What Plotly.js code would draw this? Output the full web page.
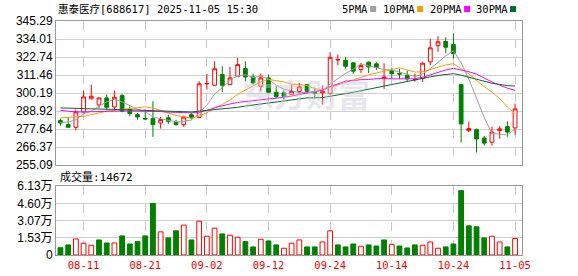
<!DOCTYPE html>
<html><head><meta charset="utf-8">
<script src="https://cdn.plot.ly/plotly-3.0.1.min.js"></script>
<style>html,body{margin:0;padding:0;background:#fff}#c{width:578px;height:276px}</style>
</head><body><div id="c"></div>
<script>
const dates = ['08-06','08-07','08-08','08-11','08-12','08-13','08-14','08-15','08-18','08-19','08-20','08-21','08-22','08-25','08-26','08-27','08-28','08-29','09-01','09-02','09-03','09-04','09-05','09-08','09-09','09-10','09-11','09-12','09-15','09-16','09-17','09-18','09-19','09-22','09-23','09-24','09-25','09-26','09-29','09-30','10-09','10-10','10-13','10-14','10-15','10-16','10-17','10-20','10-21','10-22','10-23','10-24','10-27','10-28','10-29','10-30','10-31','11-03','11-04','11-05'];
const openP  = [283.0,280.5,278.8,288.4,296.6,292.8,297.2,291.5,298.6,289.9,286.7,284.4,284.2,281.5,284.7,281.9,280.5,286.7,285.0,305.9,305.1,311.8,305.5,310.7,315.5,310.3,304.5,309.7,300.7,300.3,299.3,301.3,305.5,300.5,300.3,299.9,320.9,320.7,319.1,314.9,319.5,318.5,309.3,314.3,312.4,311.3,308.5,309.3,319.7,329.9,332.5,330.6,305.5,276.7,277.3,272.1,269.5,276.7,279.2,278.4];
const highP  = [284.2,285.3,289.9,301.8,305.5,297.2,299.3,301.8,299.7,291.9,287.8,289.9,295.1,285.3,286.7,283.6,286.1,287.8,307.6,312.2,320.1,317.0,316.6,322.2,320.1,312.4,312.4,311.8,304.5,301.9,305.5,306.6,305.6,303.5,304.9,325.8,324.3,322.9,319.7,319.1,320.1,319.7,318.7,316.0,315.4,314.3,312.4,319.5,334.1,335.8,335.1,337.5,305.6,282.3,278.0,273.4,279.2,279.5,282.5,293.6];
const lowP   = [279.8,278.8,276.9,288.0,296.3,290.9,289.4,289.4,288.2,285.7,283.6,283.6,272.8,278.0,280.9,279.8,279.0,283.6,284.7,302.4,305.0,300.9,305.4,310.6,307.6,305.5,301.3,300.3,297.2,296.1,299.2,299.3,300.3,297.0,293.0,299.3,317.6,315.5,312.2,312.8,312.8,314.5,302.8,309.7,309.1,307.2,307.4,307.1,317.6,326.0,325.4,321.8,269.4,275.8,263.1,267.3,267.3,271.7,272.9,274.2];
const closeP = [281.5,278.8,288.4,297.8,298.2,297.2,291.3,297.6,288.8,287.4,285.3,284.0,280.5,283.6,282.5,280.5,285.2,285.0,306.0,306.2,315.4,305.1,309.7,318.0,310.3,306.6,309.7,300.7,298.1,298.2,301.3,304.1,301.3,300.2,301.3,322.6,321.2,317.0,313.9,317.4,316.6,316.2,310.3,312.4,312.1,309.1,308.7,318.9,328.5,332.3,328.9,324.9,280.9,278.0,271.5,268.9,275.8,277.8,275.8,290.3];
const volume = [6500,9000,14300,10500,8700,13400,10700,10700,17000,9800,11900,17000,45900,20600,15200,21500,26600,13400,30100,16700,23900,18800,17600,15800,11900,7200,14000,12500,9000,6000,10500,13400,7200,7200,11600,21500,9000,7200,9800,7800,9000,8000,13400,9500,8000,6300,9000,8700,11600,6000,7200,9800,57300,26000,25100,15200,16700,11600,7200,14672];
const ma5Head  = [281.9,282.0,283.6,287.2];
const ma10Head = [284.65,285.0,285.3,285.7,286.7,287.8,288.8,289.5,289.9];
const ma20Head = [289.4,288.9,288.4,288.4,288.6,288.8,288.9,289.0,289.0,289.0,289.0,288.9,288.8,288.6,288.3,288.0,287.8,287.8,288.3];
const ma30Head = [290.9,290.8,290.7,290.6,290.5,290.4,290.3,290.2,290.0,289.8,289.6,289.4,289.2,289.0,288.8,288.6,288.5,288.4,288.9,289.3,289.8,290.2,290.7,291.3,292.1,292.8,293.6,294.1,294.6];
const tickDates = ['08-11','08-21','09-02','09-12','09-24','10-14','10-24','11-05'];
const priceTicks = [255.09,266.37,277.64,288.92,300.19,311.46,322.74,334.01,345.29];
const volTicks = [0,15325,30650,45975,61300];
const volLabels = ['0','1.53万','3.07万','4.60万','6.13万'];
const maNames = ['5PMA','10PMA','20PMA','30PMA'];
const maColors = ['#a0a0a0','#f5a000','#ff00ff','#006d2c'];

function movingAvg(n, head){
  return closeP.map((c,i)=>{
    if(i < n-1) return head[i];
    let s=0; for(let k=i-n+1;k<=i;k++) s+=closeP[k];
    return s/n;
  });
}
const mas = [movingAvg(5,ma5Head),movingAvg(10,ma10Head),movingAvg(20,ma20Head),movingAvg(30,ma30Head)];

const UP='#ff0000', DN='#008000';
const volUp = closeP.map((c,i)=> i===0 ? c>=openP[0] : c>=closeP[i-1]);

const traces = [];
traces.push({type:'candlestick', x:dates, open:openP, high:highP, low:lowP, close:closeP,
  xaxis:'x', yaxis:'y', whiskerwidth:0,
  increasing:{line:{color:UP,width:1}, fillcolor:'#ffffff'},
  decreasing:{line:{color:DN,width:1}, fillcolor:DN}, hoverinfo:'skip'});
mas.forEach((m,j)=>traces.push({type:'scatter', mode:'lines', x:dates, y:m, xaxis:'x', yaxis:'y',
  line:{color:maColors[j], width:1}, hoverinfo:'skip'}));
traces.push({type:'bar', x:dates, y:volume, xaxis:'x2', yaxis:'y2', width:0.62,
  marker:{color:volUp.map(u=>u?'#ffffff':DN), line:{color:volUp.map(u=>u?UP:DN), width:1}}, hoverinfo:'skip'});

// pixel helpers for placing decorations
const L=55.5, R=522, T=21, B=255.5;
const px = x => (x-L)/(R-L);
const py = y => (B-y)/(B-T);

const monoF = 'DejaVu Sans Mono, Noto Sans CJK SC, monospace';
const annotations = [
  {xref:'paper', yref:'paper', x:px(56), y:py(9), xanchor:'left', yanchor:'middle', showarrow:false,
   text:'惠泰医疗[688617] 2025-11-05 15:30', font:{family:monoF, size:10.5, color:'#000'}},
  {xref:'paper', yref:'paper', x:px(58), y:py(177), xanchor:'left', yanchor:'middle', showarrow:false,
   text:'成交量:14672', font:{family:monoF, size:11, color:'#000'}},
  {xref:'paper', yref:'paper', x:px(306), y:py(93), xanchor:'center', yanchor:'middle', showarrow:false,
   text:'东方财富', font:{family:'Noto Sans CJK SC', size:32, color:'rgba(200,200,212,0.45)', weight:700}}
];
const shapes = [];
const legX = [340,381,428,474], sqX=[370,417,464,510];
maNames.forEach((n,j)=>{
  annotations.push({xref:'paper', yref:'paper', x:px(legX[j]), y:py(9), xanchor:'left', yanchor:'middle', showarrow:false,
    text:n, font:{family:monoF, size:10.5, color:'#000'}});
  shapes.push({type:'rect', xref:'paper', yref:'paper', x0:px(sqX[j]), x1:px(sqX[j]+6), y0:py(12), y1:py(6),
    fillcolor:maColors[j], line:{width:0}});
});

const common = {type:'category', range:[-0.58,59.9], tickmode:'array', tickvals:tickDates, ticktext:tickDates,
  showgrid:true, gridcolor:'#c8c8c8', griddash:'dash', gridwidth:1, showline:true, mirror:true,
  linecolor:'#999999', linewidth:1, ticks:'', zeroline:false, fixedrange:true};
const layout = {
  width:578, height:276, margin:{l:L, r:578-R, t:T, b:276-B},
  paper_bgcolor:'#ffffff', plot_bgcolor:'#ffffff', showlegend:false,
  xaxis:Object.assign({}, common, {anchor:'y', showticklabels:false, rangeslider:{visible:false}}),
  xaxis2:Object.assign({}, common, {anchor:'y2', showticklabels:true,
    tickfont:{family:monoF, size:10.5, color:'#ff0000'}}),
  yaxis:{domain:[py(165.5),1], range:[255.085,345.295], tickmode:'array', tickvals:priceTicks,
    ticktext:priceTicks.map(v=>v.toFixed(2)), showgrid:true, gridcolor:'#d0d0d0', gridwidth:1,
    showline:true, mirror:true, linecolor:'#999999', linewidth:1, ticks:'', zeroline:false,
    tickfont:{family:'Liberation Sans, Arial', size:12, color:'#000'}, fixedrange:true},
  yaxis2:{domain:[0,py(186.5)], range:[0,61300], tickmode:'array', tickvals:volTicks, ticktext:volLabels,
    showgrid:true, gridcolor:'#d0d0d0', gridwidth:1, showline:true, mirror:true, linecolor:'#999999',
    linewidth:1, ticks:'', zeroline:false,
    tickfont:{family:'Liberation Sans, Noto Sans CJK SC', size:12, color:'#000'}, fixedrange:true},
  annotations:annotations, shapes:shapes
};
Plotly.newPlot('c', traces, layout, {displayModeBar:false, staticPlot:true});
</script></body></html>
